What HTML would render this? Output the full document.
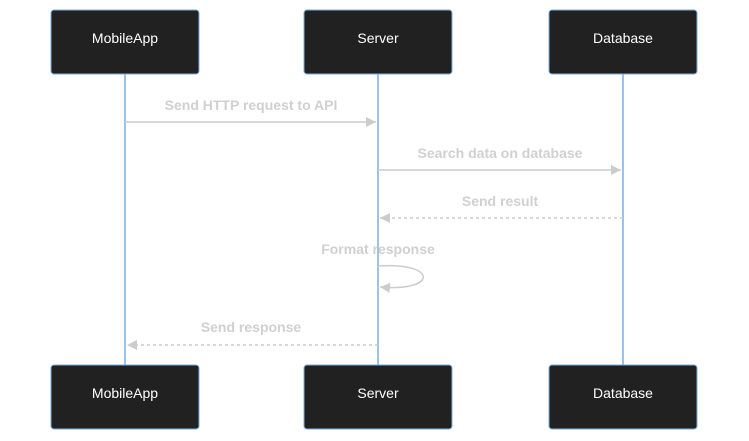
<!DOCTYPE html>
<html><head><meta charset="utf-8"><style>
html,body{margin:0;padding:0;background:#fff;width:749px;height:441px;overflow:hidden}
svg{display:block}
.a{font-family:"Liberation Sans",sans-serif;font-size:14px;fill:#fff}
.m{font-family:"Liberation Sans",sans-serif;font-size:14px;font-weight:bold;fill:#d0d0d0}
</style></head><body>
<svg width="749" height="441" viewBox="0 0 749 441" xmlns="http://www.w3.org/2000/svg">
<defs>
<marker id="ar" markerWidth="12" markerHeight="12" refX="10" refY="5" orient="auto" markerUnits="userSpaceOnUse">
<path d="M0,0 L10,5 L0,10 z" fill="#ccc"/></marker>
</defs>
<g stroke="#7aaee0" stroke-width="1.5">
<line x1="125" y1="74" x2="125" y2="365"/>
<line x1="378" y1="74" x2="378" y2="365"/>
<line x1="623" y1="74" x2="623" y2="365"/>
</g>
<g fill="#212121" stroke="#7aaee0" stroke-width="1">
<rect x="51" y="10" width="148" height="64" rx="3"/>
<rect x="304" y="10" width="148" height="64" rx="3"/>
<rect x="549" y="10" width="148" height="64" rx="3"/>
<rect x="51" y="365" width="148" height="64" rx="3"/>
<rect x="304" y="365" width="148" height="64" rx="3"/>
<rect x="549" y="365" width="148" height="64" rx="3"/>
</g>
<g class="a" text-anchor="middle">
<text x="125" y="43">MobileApp</text><text x="378" y="43">Server</text><text x="623" y="43">Database</text>
<text x="125" y="398">MobileApp</text><text x="378" y="398">Server</text><text x="623" y="398">Database</text>
</g>
<g stroke="#ccc" stroke-width="1.5" fill="none">
<line x1="125" y1="122" x2="376" y2="122" marker-end="url(#ar)"/>
<line x1="378" y1="170" x2="621" y2="170" marker-end="url(#ar)"/>
<line x1="623" y1="218" x2="380" y2="218" stroke-dasharray="3,3" marker-end="url(#ar)"/>
<path d="M378,266 C438,262 438,292 380,287" marker-end="url(#ar)"/>
<line x1="378" y1="345" x2="127" y2="345" stroke-dasharray="3,3" marker-end="url(#ar)"/>
</g>
<g class="m" text-anchor="middle">
<text x="251" y="110">Send HTTP request to API</text>
<text x="500" y="158">Search data on database</text>
<text x="500" y="206">Send result</text>
<text x="378" y="254">Format response</text>
<text x="251" y="332">Send response</text>
</g>
</svg>
</body></html>
